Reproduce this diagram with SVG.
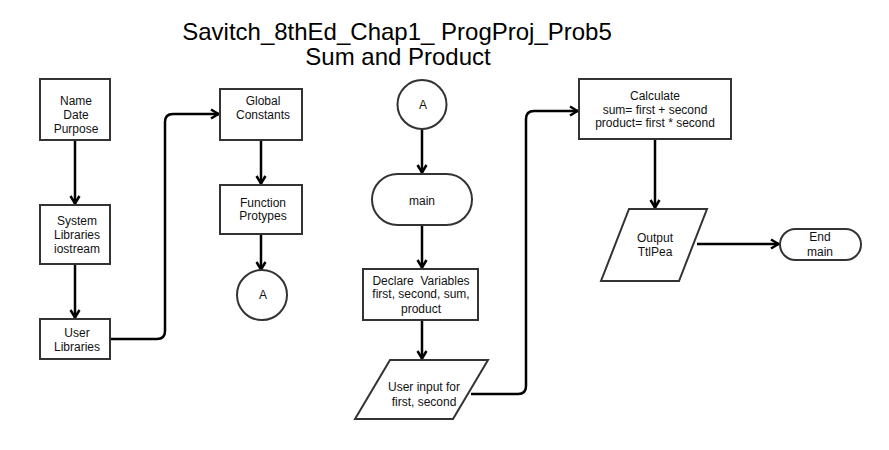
<svg xmlns="http://www.w3.org/2000/svg" width="889" height="450" viewBox="0 0 889 450">
<style>
.n{fill:#fff;stroke:#333;stroke-width:2}
.t{font-family:"Liberation Sans",Arial,sans-serif;font-size:12px;fill:#111;text-anchor:middle;white-space:pre}
.title{font-family:"Liberation Sans",Arial,sans-serif;font-size:24px;fill:#000;text-anchor:middle}
.c{fill:none;stroke:#000;stroke-width:2.5;marker-end:url(#ah)}
</style>
<defs>
<marker id="ah" markerUnits="userSpaceOnUse" viewBox="0 0 12 12" refX="11" refY="6" markerWidth="12" markerHeight="12" orient="auto">
<path d="M3,1.5 L10.5,6 L3,10.5" fill="none" stroke="#000" stroke-width="2.5"/>
</marker>
</defs>
<rect width="889" height="450" fill="#fff"/>
<g id="title">
<text class="title" x="397" y="40">Savitch_8thEd_Chap1_ ProgProj_Prob5</text>
<text class="title" x="398" y="65">Sum and Product</text>
</g>
<g id="connectors">
<path class="c" d="M75,140 V204"/>
<path class="c" d="M75,264 V318"/>
<path class="c" d="M110,339 H157 Q165,339 165,331 V122 Q165,114 173,114 H219"/>
<path class="c" d="M261,140 V184"/>
<path class="c" d="M261,234 V270"/>
<path class="c" d="M422,129 V173"/>
<path class="c" d="M422,225 V268"/>
<path class="c" d="M422,320 V359"/>
<path class="c" d="M471,394 H518 Q526,394 526,386 V119 Q526,111 534,111 H578"/>
<path class="c" d="M655,139 V208"/>
<path class="c" d="M697,244 H779"/>
</g>
<g id="n1"><rect class="n" x="40" y="79" width="70" height="61"/>
<text class="t" x="76" y="105">Name</text><text class="t" x="76" y="119">Date</text><text class="t" x="76" y="133">Purpose</text></g>
<g id="n2"><rect class="n" x="40" y="205" width="70" height="59"/>
<text class="t" x="77" y="225">System</text><text class="t" x="77" y="239">Libraries</text><text class="t" x="77" y="253">iostream</text></g>
<g id="n3"><rect class="n" x="40" y="319" width="70" height="40"/>
<text class="t" x="77" y="337">User</text><text class="t" x="77" y="351">Libraries</text></g>
<g id="n4"><rect class="n" x="220" y="89" width="82" height="51"/>
<text class="t" x="263" y="105">Global</text><text class="t" x="263" y="119">Constants</text></g>
<g id="n5"><rect class="n" x="220" y="185" width="82" height="49"/>
<text class="t" x="263" y="207">Function</text><text class="t" x="263" y="220">Protypes</text></g>
<g id="n6"><circle class="n" cx="262" cy="295" r="25"/>
<text class="t" x="263" y="299">A</text></g>
<g id="n7"><circle class="n" cx="422" cy="104.5" r="24.5"/>
<text class="t" x="423" y="109">A</text></g>
<g id="n8"><rect class="n" x="372" y="174" width="100" height="51" rx="25.5"/>
<text class="t" x="422" y="205">main</text></g>
<g id="n9"><rect class="n" x="363" y="269" width="115" height="51"/>
<text class="t" x="421" y="285">Declare  Variables</text><text class="t" x="421" y="298">first, second, sum,</text><text class="t" x="421" y="313">product</text></g>
<g id="n10"><polygon class="n" points="390,360 488,360 453,419 355,419"/>
<text class="t" x="424" y="391">User input for</text><text class="t" x="424" y="406">first, second</text></g>
<g id="n11"><rect class="n" x="579" y="79" width="152" height="60"/>
<text class="t" x="655" y="100">Calculate</text><text class="t" x="655" y="114">sum= first + second</text><text class="t" x="655" y="127">product= first * second</text></g>
<g id="n12"><polygon class="n" points="629,209 707,209 679,281 601,281"/>
<text class="t" x="655" y="242">Output</text><text class="t" x="655" y="256">TtlPea</text></g>
<g id="n13"><rect class="n" x="780" y="229" width="81" height="31" rx="15.5"/>
<text class="t" x="820" y="241">End</text><text class="t" x="820" y="256">main</text></g>
</svg>
